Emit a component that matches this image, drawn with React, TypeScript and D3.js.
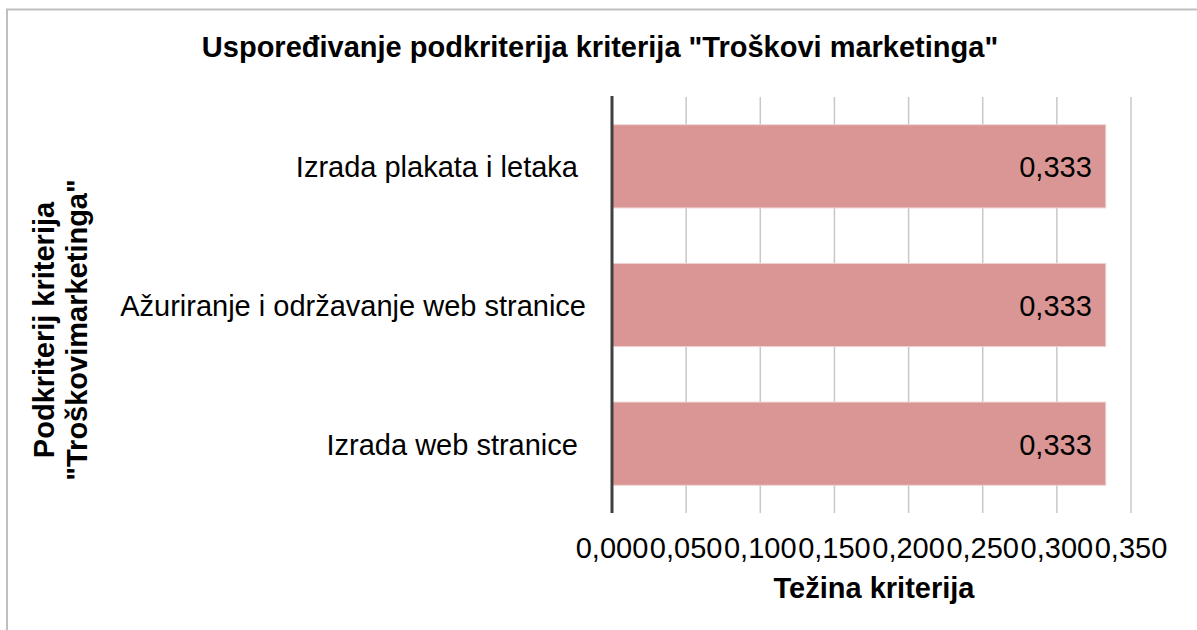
import React from "react";
import * as d3 from "d3";

const title = 'Uspoređivanje podkriterija kriterija "Troškovi marketinga"';
const categories = [
  "Izrada plakata i letaka ",
  "Ažuriranje i održavanje web stranice",
  "Izrada web stranice ",
];
const values = [0.333, 0.333, 0.333];
const ticks = [0, 0.05, 0.1, 0.15, 0.2, 0.25, 0.3, 0.35];
const xTitle = "Težina kriterija";
const yTitleLines = ["Podkriterij kriterija", '"Troškovimarketinga"'];

const W = 1197;
const H = 630;
const plot = { left: 612, right: 1131, top: 97, bottom: 513 };
const FONT = "'Liberation Sans', Arial, sans-serif";
const FS = 29;

const fmt = (v: number, d: number) => v.toFixed(d).replace(".", ",");

export default function App() {
  const x = d3.scaleLinear().domain([0, 0.35]).range([plot.left, plot.right]);
  const y = d3
    .scaleBand<string>()
    .domain(categories)
    .range([plot.top, plot.bottom])
    .paddingInner(0.4)
    .paddingOuter(0.2);

  return (
    <svg
      width={W}
      height={H}
      style={{ position: "absolute", left: 0, top: 0, background: "#fff" }}
      fontFamily={FONT}
    >
      <rect x={0} y={0} width={W} height={H} fill="#fff" />
      {/* chart border */}
      <line x1={7} y1={9} x2={7} y2={H} stroke="#BFBFBF" strokeWidth={2} />
      <line x1={6} y1={9.5} x2={W} y2={9.5} stroke="#BFBFBF" strokeWidth={2} />

      <text x={600} y={57} textAnchor="middle" fontWeight="bold" fontSize={FS}>
        {title}
      </text>

      {/* gridlines */}
      {ticks.slice(1).map((t) => (
        <line
          key={t}
          x1={x(t)}
          x2={x(t)}
          y1={plot.top}
          y2={plot.bottom}
          stroke="#C8C8C8"
          strokeWidth={1.5}
        />
      ))}

      {/* bars */}
      {categories.map((c, i) => (
        <rect
          key={c}
          x={x(0)}
          y={y(c)}
          width={x(values[i]) - x(0)}
          height={y.bandwidth()}
          fill="#D99694"
          stroke="#EFD3D2"
          strokeWidth={1}
        />
      ))}

      {/* value labels */}
      {categories.map((c, i) => (
        <text
          key={c}
          x={x(values[i]) - 14}
          y={(y(c) as number) + y.bandwidth() / 2 + 11}
          textAnchor="end"
          fontSize={FS}
          fill="#000"
        >
          {fmt(values[i], 3)}
        </text>
      ))}

      {/* axis line */}
      <line x1={x(0)} x2={x(0)} y1={plot.top - 1} y2={plot.bottom} stroke="#404040" strokeWidth={3} />

      {/* category labels */}
      {categories.map((c) => (
        <text
          key={c}
          x={586}
          y={(y(c) as number) + y.bandwidth() / 2 + 11}
          textAnchor="end"
          fontSize={FS}
          style={{ whiteSpace: "pre" }}
        >
          {c}
        </text>
      ))}

      {/* tick labels */}
      {ticks.map((t) => (
        <text key={t} x={x(t)} y={558} textAnchor="middle" fontSize={FS}>
          {fmt(t, 3)}
        </text>
      ))}

      <text x={874} y={598} textAnchor="middle" fontWeight="bold" fontSize={FS}>
        {xTitle}
      </text>

      {yTitleLines.map((l, i) => (
        <text
          key={l}
          transform={`translate(${54 + i * 33},330) rotate(-90)`}
          textAnchor="middle"
          fontWeight="bold"
          fontSize={FS}
        >
          {l}
        </text>
      ))}
    </svg>
  );
}
